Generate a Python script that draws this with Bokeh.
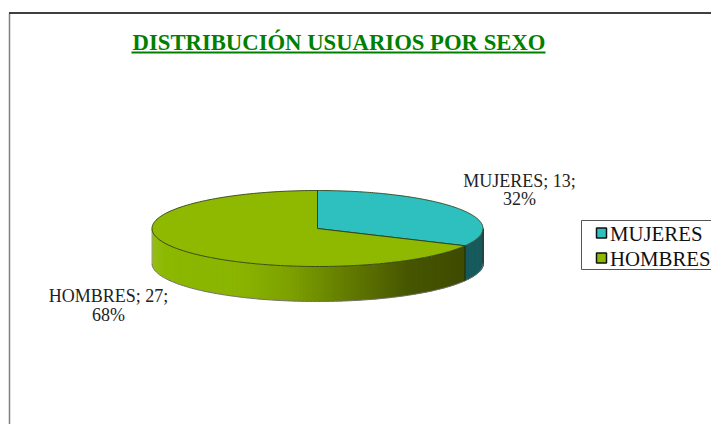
from math import pi, sin, cos
from bokeh.plotting import figure
from bokeh.embed import file_html
from bokeh.resources import INLINE
from bokeh.core.properties import value

title = "DISTRIBUCIÓN USUARIOS POR SEXO"
categories = ["MUJERES", "HOMBRES"]
counts = [13, 27]
percent_labels = ["32%", "68%"]
top_colors = ["#2EBFBF", "#8FB900"]

W, H = 711, 424
p = figure(width=W, height=H, x_range=(0, W), y_range=(H, 0),
           output_backend="svg", toolbar_location=None, min_border=0,
           outline_line_color=None, background_fill_color="white", border_fill_color="white")
p.axis.visible = False
p.grid.visible = False

SERIF = value("Liberation Serif")

# frame
p.line([9, 9], [424, 13], line_color="#808080", line_width=1.5)
p.line([8.5, 711], [12.5, 12.5], line_color="#000000", line_width=1.4)

# title
p.text([338.5], [42], text=[title], text_font=SERIF, text_font_size="22.7px", text_font_style="bold",
       text_color="#008000", text_align="center", text_baseline="middle")
p.line([131, 545], [52, 52], line_color="#008000", line_width=2)

# pie geometry
cx, cy, rx, ry, depth = 317, 228, 165.5, 38, 35
total = sum(counts)
split = 2 * pi * counts[0] / total

def pt(a):
    return cx + rx * sin(a), cy - ry * cos(a)

def mix(c1, c2, t):
    return "#%02x%02x%02x" % tuple(round(c1[i] + (c2[i] - c1[i]) * t) for i in range(3))

N = 160
sx, _ = pt(split)
green_stops = [(0.0, (150, 190, 20)), (0.04, (140, 184, 0)), (0.28, (138, 180, 0)),
               (0.44, (125, 160, 0)), (0.61, (100, 125, 0)), (0.82, (70, 85, 0)), (1.0, (62, 75, 0))]

def green_at(t):
    for (t0, c0), (t1, c1) in zip(green_stops, green_stops[1:]):
        if t <= t1:
            return mix(c0, c1, (t - t0) / (t1 - t0))
    return mix(green_stops[-1][1], green_stops[-1][1], 0)

xs, ys, cols = [], [], []
a_end = 1.5 * pi
a_start = pi / 2
for i in range(N):
    a0 = a_start + (a_end - a_start) * i / N
    a1 = a_start + (a_end - a_start) * (i + 1.0) / N
    x0, y0 = pt(a0)
    x1, y1 = pt(a1)
    xm = (x0 + x1) / 2
    if (a0 + a1) / 2 < split:
        col = "#175A5C"
    else:
        col = green_at((xm - (cx - rx)) / (sx - (cx - rx)))
    # each strip reaches 1px past its neighbour so no seams show
    xs.append([x0 + 1, x1, x1, x0 + 1])
    ys.append([y0, y1, y1 + depth, y0 + depth])
    cols.append(col)
p.patches(xs, ys, fill_color=cols, line_color=None)

# wall silhouette
arc = [a_start + (a_end - a_start) * i / 200 for i in range(201)]
p.line([pt(a)[0] for a in arc], [pt(a)[1] + depth for a in arc], line_color="#6f6f6f", line_width=1)
p.line([cx - rx, cx - rx], [cy, cy + depth], line_color="#9a9a9a", line_width=1)
p.line([cx + rx, cx + rx], [cy, cy + depth], line_color="#303030", line_width=1)
p.line([sx, sx], [pt(split)[1], pt(split)[1] + depth], line_color="#1c2c10", line_width=1)

# top slices
start = 0
for v, col in zip(counts, top_colors):
    end = start + 2 * pi * v / total
    angs = [start + (end - start) * i / 160 for i in range(161)]
    px = [cx] + [pt(a)[0] for a in angs]
    py = [cy] + [pt(a)[1] for a in angs]
    p.patch(px, py, fill_color=col, line_color="#2a3a10", line_width=1, line_alpha=0.85)
    start = end

# data labels
lab_x = [519, 108]
lab_y = [(180, 198), (295, 314)]
for c, n, pc, x, (y1, y2) in zip(categories, counts, percent_labels, lab_x, lab_y):
    p.text([x], [y1], text=[f"{c}; {n};"], text_font=SERIF, text_font_size="18px", text_color="#222222",
           text_align="center", text_baseline="middle")
    p.text([x], [y2], text=[pc], text_font=SERIF, text_font_size="18px", text_color="#222222",
           text_align="center", text_baseline="middle")

# legend
p.patch([581, 720, 720, 581], [220, 220, 269, 269], fill_color="white", line_color="#555555", line_width=1)
for i, (c, col) in enumerate(zip(categories, top_colors)):
    y = 232.5 + 25 * i
    p.patch([596, 606, 606, 596], [y - 5, y - 5, y + 5, y + 5], fill_color=col, line_color="#111111", line_width=1.5)
    p.text([609.5], [y], text=[c], text_font=SERIF, text_font_size="20.8px", text_color="#111111",
           text_align="left", text_baseline="middle")

open("out.html", "w").write(file_html(p, INLINE))
